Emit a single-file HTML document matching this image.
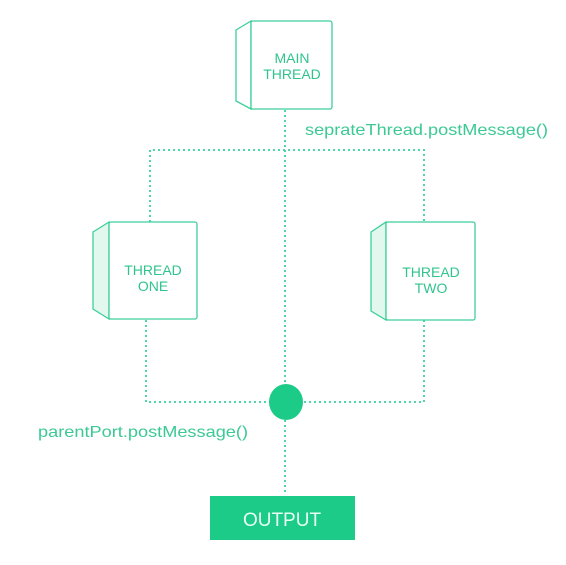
<!DOCTYPE html>
<html><head><style>html,body{margin:0;padding:0;background:#fff;}svg{display:block}</style></head>
<body>
<svg width="566" height="565" viewBox="0 0 566 565" xmlns="http://www.w3.org/2000/svg" font-family="Liberation Sans, sans-serif">
<g stroke="#4fd6a6" stroke-width="2" stroke-dasharray="2 3" fill="none">
<path d="M150 222 V150 H424 V222"/>
<path d="M285 110 V494"/>
<path d="M146 320 V402 H424 V320"/>
</g>
<g stroke="#3ecf9a" stroke-width="1.3" fill="#fff">
<path d="M236 30 L251 21 V109 L236 101 Z" fill="#fff"/>
<rect x="251" y="21" width="81" height="88" rx="2"/>
<path d="M93 232 L109 222 V319 L93 309 Z" fill="#e2f8ef"/>
<rect x="109" y="222" width="88" height="97" rx="2"/>
<path d="M371 232 L386 222 V320 L371 311 Z" fill="#e2f8ef"/>
<rect x="386" y="222" width="89" height="98" rx="2"/>
</g>
<g fill="#2fc48e" font-size="14" text-anchor="middle">
<text x="292" y="63">MAIN</text><text x="292" y="79">THREAD</text>
<text x="153" y="275">THREAD</text><text x="153" y="291">ONE</text>
<text x="431" y="277">THREAD</text><text x="431" y="293">TWO</text>
</g>
<g fill="#3cc994" font-size="16">
<text x="305" y="135" textLength="243" lengthAdjust="spacingAndGlyphs">seprateThread.postMessage()</text>
<text x="38" y="437" textLength="210" lengthAdjust="spacingAndGlyphs">parentPort.postMessage()</text>
</g>
<ellipse cx="286" cy="402" rx="17" ry="18" fill="#1ccb88"/>
<rect x="210" y="496" width="145" height="44" fill="#1ccb88"/>
<text x="282" y="526" fill="#e8fff5" font-size="19" text-anchor="middle">OUTPUT</text>
</svg>
</body></html>
